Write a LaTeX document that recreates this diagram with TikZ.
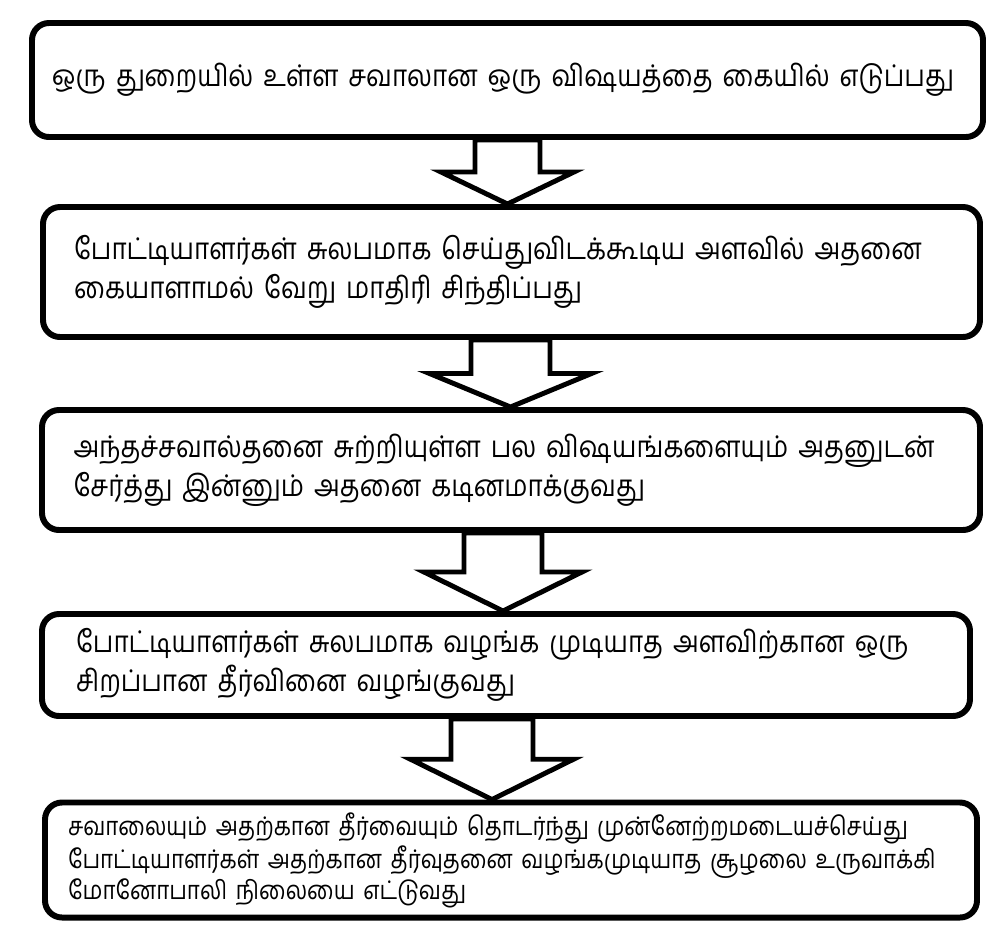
\documentclass[tikz,border=0pt]{standalone}
\usepackage{fontspec}
\newfontfamily\tamilfont[Script=Tamil,FakeStretch=0.87]{Hind Madurai}
\usetikzlibrary{positioning,calc}

\tikzset{
  stepbox/.style={draw, line width=3.4pt, rounded corners=0.34cm, align=left,
    font=\tamilfont\fontsize{17}{22}\selectfont, inner xsep=0.62cm, inner ysep=0pt},
  arrowline/.style={draw, line width=2.8pt, fill=white}
}

% block arrow: from box, to box, centre x, shaft half width, head half width
\newcommand{\flowarrow}[5]{%
  \draw[arrowline] let \p1=(#1.south), \p2=(#2.north) in
    (#3cm-#4cm,\y1) -- (#3cm-#4cm,{(\y1+\y2)/2}) -- (#3cm-#5cm,{(\y1+\y2)/2})
    -- (#3cm,\y2) -- (#3cm+#5cm,{(\y1+\y2)/2}) -- (#3cm+#4cm,{(\y1+\y2)/2})
    -- (#3cm+#4cm,\y1) -- cycle;
}

\begin{document}
\begin{tikzpicture}
\useasboundingbox (0,0) rectangle (20,-18.64);

% steps
\node[stepbox, minimum width=19.02cm, minimum height=2.28cm, text width=18.22cm, inner xsep=0.4cm]
  (take) at (10.15,-1.6) {\mbox{ஒரு துறையில் உள்ள சவாலான ஒரு விஷயத்தை கையில் எடுப்பது}};
\node[stepbox, minimum width=18.74cm, minimum height=2.6cm, text width=17.5cm]
  (think) at (10.23,-5.44) {\mbox{போட்டியாளர்கள் சுலபமாக செய்துவிடக்கூடிய அளவில் அதனை}\\
  கையாளாமல் வேறு மாதிரி சிந்திப்பது};
\node[stepbox, minimum width=18.76cm, minimum height=2.4cm, text width=17.5cm]
  (harden) at (10.22,-9.4) {\mbox{அந்தச்சவால்தனை சுற்றியுள்ள பல விஷயங்களையும் அதனுடன்}\\
  சேர்த்து இன்னும் அதனை கடினமாக்குவது};
\node[stepbox, minimum width=18.56cm, minimum height=2.04cm, text width=17.2cm, inner xsep=0.68cm]
  (solve) at (10.12,-13.3) {\mbox{போட்டியாளர்கள் சுலபமாக வழங்க முடியாத அளவிற்கான ஒரு}\\
  சிறப்பான தீர்வினை வழங்குவது};
\node[stepbox, minimum width=18.64cm, minimum height=2.3cm, text width=17.72cm, inner xsep=0.46cm,
  font=\tamilfont\fontsize{14.6}{17.6}\selectfont]
  (monopoly) at (10.22,-17.2) {\mbox{சவாலையும் அதற்கான தீர்வையும் தொடர்ந்து முன்னேற்றமடையச்செய்து}\\
  \mbox{போட்டியாளர்கள் அதற்கான தீர்வுதனை வழங்கமுடியாத சூழலை உருவாக்கி}\\
  மோனோபாலி நிலையை எட்டுவது};

% arrows between the steps
\flowarrow{take}{think}{10.15}{0.65}{1.33}
\flowarrow{think}{harden}{10.21}{0.79}{1.62}
\flowarrow{harden}{solve}{10.06}{0.78}{1.58}
\flowarrow{solve}{monopoly}{9.84}{0.82}{1.63}
\end{tikzpicture}
\end{document}
